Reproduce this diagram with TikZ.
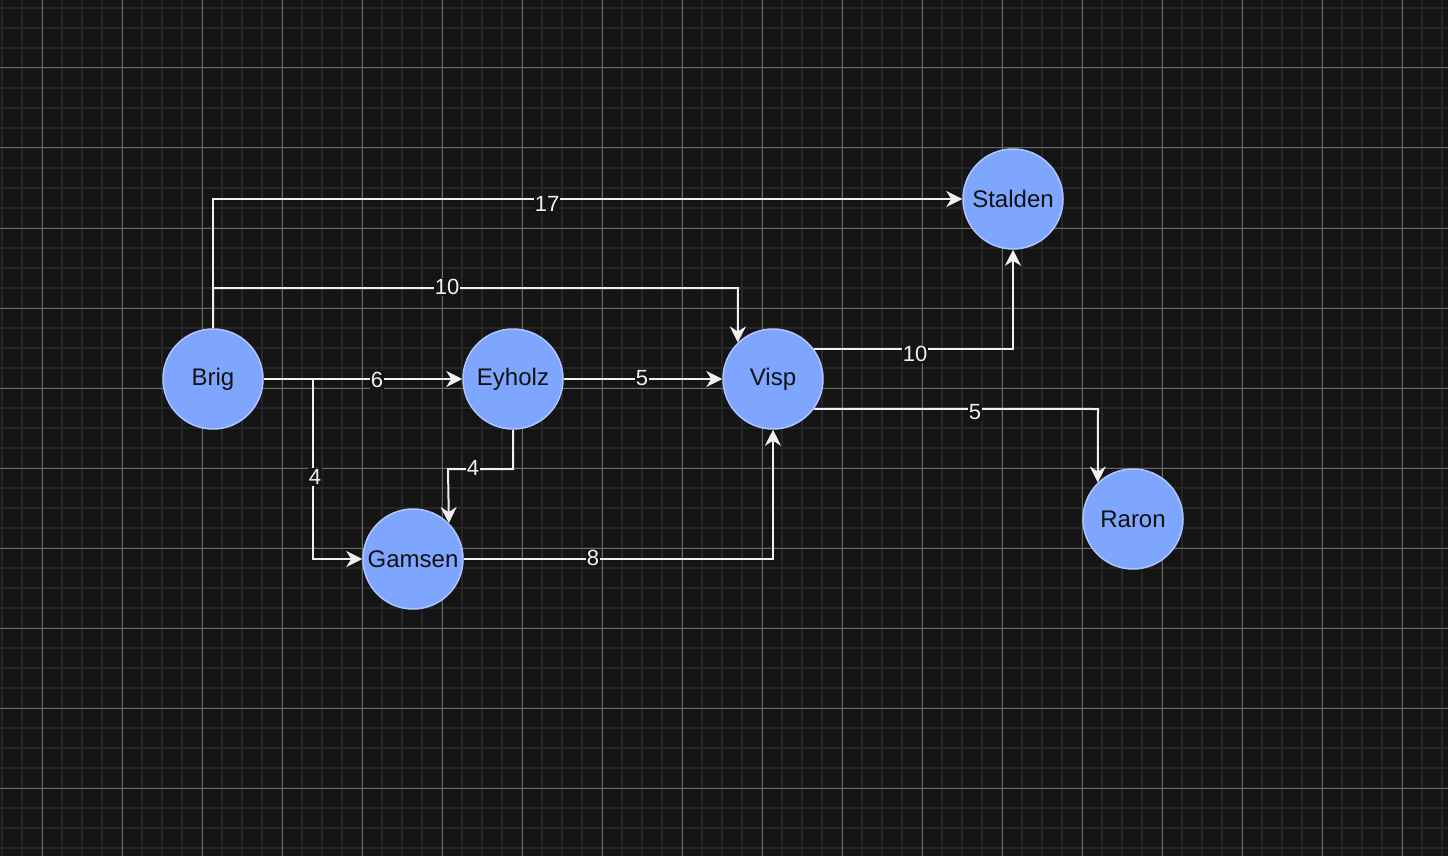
\documentclass[tikz,border=0pt]{standalone}
\usepackage{fontspec}
\setmainfont{Liberation Sans}
\usetikzlibrary{arrows.meta}

\definecolor{bgcol}{RGB}{20,20,20}
\definecolor{minorgrid}{RGB}{38,38,38}
\definecolor{majorgrid}{RGB}{105,105,105}
\definecolor{nodefill}{RGB}{126,166,255}
\definecolor{nodeline}{RGB}{172,198,255}
\definecolor{edgecol}{RGB}{240,240,240}
\definecolor{nodetext}{RGB}{17,17,17}

\tikzset{
  town/.style={circle, minimum size=100pt, inner sep=0pt, fill=nodefill,
    draw=nodeline, line width=1.5pt, text=nodetext,
    font=\fontsize{24}{28}\selectfont},
  road/.style={draw=edgecol, line width=2pt,
    -{Stealth[length=16pt, width=16pt, inset=5pt]}},
  weight/.style={fill=bgcol, text=edgecol, inner sep=1pt,
    font=\fontsize{22}{25}\selectfont}
}

\begin{document}
\begin{tikzpicture}[x=1pt, y=-1pt]
  % canvas and grid
  \fill[bgcol] (0,0) rectangle (1448,856);
  \useasboundingbox (0,0) rectangle (1448,856);
  \foreach \x in {2,22,...,1442} \draw[minorgrid, line width=1.6pt] (\x,0) -- (\x,856);
  \foreach \y in {8,28,...,848} \draw[minorgrid, line width=1.6pt] (0,\y) -- (1448,\y);
  \foreach \x in {42,122,...,1442} \draw[majorgrid, line width=1pt] (\x,0) -- (\x,856);
  \foreach \y in {68,148,...,848} \draw[majorgrid, line width=1pt] (0,\y) -- (1448,\y);

  % towns
  \node[town] (Brig)    at (213,379)  {Brig};
  \node[town] (Eyholz)  at (513,379)  {Eyholz};
  \node[town] (Visp)    at (773,379)  {Visp};
  \node[town] (Gamsen)  at (413,559)  {Gamsen};
  \node[town] (Stalden) at (1013,199) {Stalden};
  \node[town] (Raron)   at (1133,519) {Raron};

  % bend points of the orthogonal routes
  \coordinate (bvBend) at (738,288);
  \coordinate (bgFork) at (313,379);
  \coordinate (egBendA) at (513,469);
  \coordinate (egBendB) at (448,469);
  \coordinate (vrBend) at (1098,409);

  % roads
  \draw[road] (Brig.north) |- (Stalden.west);
  \draw[road] (Brig.north) |- (bvBend) -- (Visp.134.4);
  \draw[road] (Brig.east) -- (Eyholz.west);
  \draw[road] (bgFork) |- (Gamsen.west);
  \draw[road] (Eyholz.south) -- (egBendA) -- (egBendB) -- (Gamsen.45.6);
  \draw[road] (Eyholz.east) -- (Visp.west);
  \draw[road] (Gamsen.east) -| (Visp.south);
  \draw[road] (Visp.36.87) -| (Stalden.south);
  \draw[road] (Visp.-36.87) -- (vrBend) -- (Raron.134.4);

  % distances
  \node[weight] (w17) at (547,204) {17};
  \node[weight] (w10a) at (447,287) {10};
  \node[weight] (w6) at (377,380) {6};
  \node[weight] (w4a) at (315,477) {4};
  \node[weight] (w4b) at (473,468) {4};
  \node[weight] (w5a) at (642,378) {5};
  \node[weight] (w8) at (593,558) {8};
  \node[weight] (w10b) at (915,354) {10};
  \node[weight] (w5b) at (975,412) {5};
\end{tikzpicture}
\end{document}
